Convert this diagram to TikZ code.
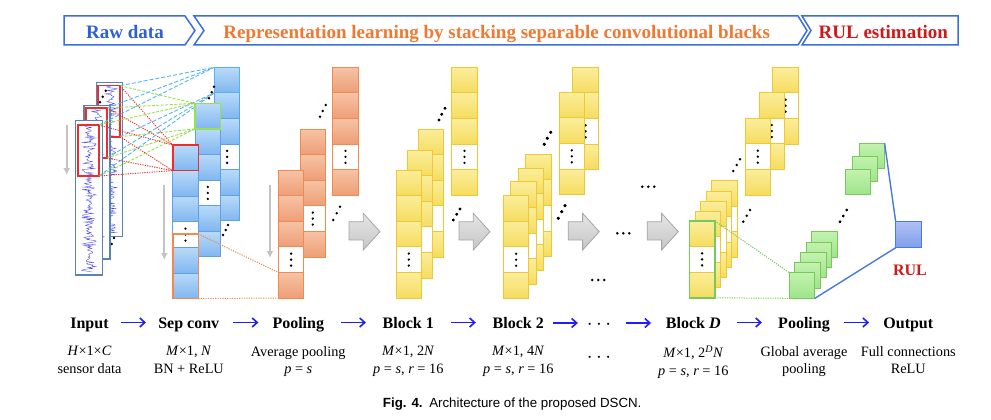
\documentclass[tikz,border=0pt]{standalone}
\usepackage{fontspec}
\setmainfont{Liberation Serif}
\newfontfamily\capfont{Liberation Sans}
\usetikzlibrary{arrows.meta,calc,positioning}
\definecolor{bannerblue}{RGB}{60,110,220}
\definecolor{rawblue}{RGB}{45,95,215}
\definecolor{reporange}{RGB}{240,120,50}
\definecolor{rulred}{RGB}{205,25,25}
\definecolor{sepline}{RGB}{95,160,230}
\definecolor{sepA}{RGB}{185,218,248}
\definecolor{sepB}{RGB}{128,182,240}
\definecolor{poolline}{RGB}{240,138,80}
\definecolor{poolA}{RGB}{246,195,165}
\definecolor{poolB}{RGB}{238,158,118}
\definecolor{yelline}{RGB}{240,200,55}
\definecolor{yelA}{RGB}{251,238,155}
\definecolor{yelB}{RGB}{245,220,95}
\definecolor{gapline}{RGB}{120,200,90}
\definecolor{gapA}{RGB}{195,242,175}
\definecolor{gapB}{RGB}{158,228,138}
\definecolor{outline}{RGB}{75,120,225}
\definecolor{outA}{RGB}{175,192,245}
\definecolor{outB}{RGB}{128,158,235}
\definecolor{hlred}{RGB}{235,45,45}
\definecolor{hlgreen}{RGB}{150,225,80}
\definecolor{cyanln}{RGB}{85,180,240}
\definecolor{inline}{RGB}{90,130,180}
\definecolor{wave}{RGB}{70,70,230}
\definecolor{arrgray}{RGB}{165,165,165}
\definecolor{downgray}{RGB}{195,195,195}
\definecolor{flowblue}{RGB}{30,30,250}

\newcommand{\cellsz}{25.6}
% one column of cells: x, y (top left), number of cells, dots cell, style prefix
\newcommand{\cellcol}[5]{%
  \foreach \k in {1,...,#3}
    \draw[#5cell] (#1,{#2+(\k-1)*\cellsz}) rectangle ++(\cellsz,\cellsz);
  \ifnum#4>0
    \draw[#5dot] (#1,{#2+(#4-1)*\cellsz}) rectangle ++(\cellsz,\cellsz);
    \foreach \d in {-6,0,6}
      \fill ({#1+\cellsz/2},{#2+(#4-0.5)*\cellsz+\d}) circle (1.3);
  \fi}

\tikzset{
  banner/.style={draw=bannerblue, line width=1.5pt, fill=white},
  bantext/.style={font=\fontsize{19}{22}\selectfont\bfseries, anchor=base, inner sep=0},
  sepcell/.style={draw=sepline, line width=0.9pt, top color=sepA, bottom color=sepB},
  sepdot/.style={draw=sepline, line width=0.9pt, fill=white},
  poolcell/.style={draw=poolline, line width=0.9pt, top color=poolA, bottom color=poolB},
  pooldot/.style={draw=poolline, line width=0.9pt, fill=white},
  yelcell/.style={draw=yelline, line width=0.9pt, top color=yelA, bottom color=yelB},
  yeldot/.style={draw=yelline, line width=0.9pt, fill=white},
  gapcell/.style={draw=gapline, line width=0.9pt, top color=gapA, bottom color=gapB},
  inrect/.style={draw=inline, line width=1.4pt, fill=white},
  wavy/.style={draw=wave, line width=0.35pt},
  hlbox/.style={draw=#1, line width=1.6pt, anchor=north west, inner sep=0, outer sep=0},
  cyandash/.style={draw=cyanln, line width=0.9pt, dash pattern=on 4pt off 2pt},
  greendash/.style={draw=hlgreen, line width=0.9pt, dash pattern=on 3pt off 1.5pt},
  reddot/.style={draw=hlred, line width=0.9pt, dash pattern=on 1.2pt off 1.2pt},
  orangedot/.style={draw=poolline, line width=1pt, dash pattern=on 1.2pt off 1.2pt},
  greendot/.style={draw=gapline, line width=1pt, dash pattern=on 1.2pt off 1.2pt},
  fcline/.style={draw=outline, line width=1.4pt},
  blockarrow/.style={draw=arrgray, line width=0.8pt, top color=gray!20, bottom color=gray!45},
  downarr/.style={draw=downgray, line width=1.8pt, -{Latex[length=7pt,width=7pt]}},
  lab/.style={font=\fontsize{16}{19}\selectfont\bfseries, inner sep=0, text height=11pt, text depth=0pt, anchor=base},
  sub/.style={font=\fontsize{14.3}{17.6}\selectfont, align=center, inner sep=0},
  flow/.style={draw=flowblue, line width=1.6pt, -{Straight Barb[length=5pt,width=9pt]}}
}

\begin{document}
\begin{tikzpicture}[x=1pt,y=-1pt]
  \useasboundingbox (0,0) rectangle (991,420);
  \pgfmathsetseed{7}

  % banner
  \draw[banner] (64,16) -- (185,16) -- (195,30.5) -- (185,45) -- (64,45) -- cycle;
  \draw[banner] (194,16) -- (798,16) -- (807,30.5) -- (798,45) -- (194,45) -- (204,30.5) -- cycle;
  \draw[banner] (802,16) -- (958,16) -- (958,45) -- (802,45) -- (811,30.5) -- cycle;
  \node[bantext, text=rawblue] (raw) at (125,38.3) {Raw data};
  \node[bantext, text=reporange] (rep) at (496.7,38.3) {Representation learning by stacking separable convolutional blacks};
  \node[bantext, text=rulred] (est) at (883.3,38.3) {RUL estimation};

  % input channels
  \draw[inrect] (96.7,82.7) rectangle (122.7,236.7);
  \draw[wavy] plot[domain=86:234, samples=170] ({109.7+(2.5+5*abs(sin(\x*9)))*rand}, \x);
  \node[hlbox=hlred, minimum width=22pt, minimum height=51pt] (rb1) at (98,85.7) {};
  \foreach \px/\py in {105.7/90.7, 102.7/96.7, 100/102.3, 114/238, 111.7/244}
    \fill (\px,\py) circle (1.4);
  \draw[inrect] (84,105.7) rectangle (110,259);
  \draw[wavy] plot[domain=109:256, samples=170] ({97+(2.5+5*abs(sin(\x*11)))*rand}, \x);
  \node[hlbox=hlred, minimum width=21pt, minimum height=50pt] (rb2) at (86,108) {};
  \draw[inrect] (75.7,120.7) rectangle (102.3,275);
  \draw[wavy] plot[domain=124:272, samples=170] ({89+(2.5+5*abs(sin(\x*7)))*rand}, \x);
  \node[hlbox=hlred, minimum width=21pt, minimum height=51pt] (rb3) at (78,125) {};
  \draw[downarr] (66.7,125) -- (66.7,175);

  % input to separable convolution
  \coordinate (cyT) at (214.3,67.3);
  \coordinate (cyB) at (214.3,92.9);
  \coordinate (grT) at (195,103.3);
  \coordinate (grB) at (195,128.9);
  \coordinate (rdT) at (172.7,145);
  \coordinate (rdB) at (172.7,170.6);
  \foreach \s in {rb1,rb2,rb3}
  {
    \draw[cyandash] (\s.north east) -- (cyT);
    \draw[cyandash] (\s.south east) -- (cyB);
    \draw[greendash] (\s.north east) -- (grT);
    \draw[greendash] (\s.south east) -- (grB);
    \draw[reddot] (\s.north east) -- (rdT);
    \draw[reddot] (\s.south east) -- (rdB);
    }

  % sep conv
  \cellcol{214.3}{67.3}{6}{4}{sep}
  \draw[draw=cyanln, line width=1pt] (cyT) rectangle ++(\cellsz,\cellsz);
  \cellcol{195}{103.3}{6}{4}{sep}
  \node[hlbox=hlgreen, minimum size=25.6pt] (grbox) at (grT) {};
  \cellcol{172.7}{145}{6}{4}{sep}
  \node[hlbox=hlred, minimum size=25.6pt] (rdbox) at (rdT) {};
  \node[hlbox=poolline, minimum width=25.6pt, minimum height=64.3pt] (ob) at (172.7,234) {};
  \foreach \px/\py in {214/86.7, 211.7/92.3, 209/98.3, 228/225, 225.7/230, 223/235}
    \fill (\px,\py) circle (1.4);
  \draw[downarr] (164.3,185) -- (164.3,260);

  % pooling
  \coordinate (plT) at (278.3,272.4);
  \coordinate (plB) at (278.3,298.2);
  \draw[orangedot] (ob.north east) -- (plT);
  \draw[orangedot] (ob.south east) -- (plB);
  \cellcol{332.7}{67.3}{5}{4}{pool}
  \cellcol{300}{129}{5}{4}{pool}
  \cellcol{278.3}{170}{5}{4}{pool}
  \foreach \px/\py in {325.7/105, 322.7/111, 320/116.7, 340/206.7, 336.7/213.3, 333.3/220}
    \fill (\px,\py) circle (1.4);
  \draw[downarr] (270,185) -- (270,258);

  % block 1
  \cellcol{451.7}{67.3}{5}{4}{yel}
  \foreach \cx/\cy in {418.3/129, 407.3/150, 396/170}
    \cellcol{\cx}{\cy}{5}{4}{yel}
  \foreach \px/\py in {445/108.3, 441.7/114.3, 439/120, 460/209, 456.7/214.3, 453.3/220}
    \fill (\px,\py) circle (1.4);

  % block 2
  \foreach \cx/\cy in {572.7/67.3, 559/92.3, 525.5/154.3, 518.1/168.1, 510.7/181.9, 503.3/195.7}
    \cellcol{\cx}{\cy}{4}{3}{yel}
  \foreach \px/\py in {550.7/132.3, 547.3/138.3, 544.3/144.3, 565/205.7, 561.7/211.7, 558.3/218.3}
    \fill (\px,\py) circle (1.4);

  % ... between blocks
  \foreach \hx/\hy in {598.3/280, 623.3/233.3, 648.3/186.7}
    \foreach \d in {-6,0,6}
      \fill ({\hx+\d},\hy) circle (1.4);

  % block D
  \foreach \cx/\cy in {772.7/67.3, 759/92.7, 745/118.3, 711.7/180.7, 706/191, 700.7/201, 695/211, 689.3/221}
    \cellcol{\cx}{\cy}{3}{2}{yel}
  \node[hlbox=gapline, minimum width=25.6pt, minimum height=76.8pt] (gcol) at (689.3,221) {};
  \foreach \px/\py in {740/159.3, 736.7/165, 733.3/171, 750/210, 746.7/215.7, 743.3/221.7}
    \fill (\px,\py) circle (1.4);

  % big arrows
  \foreach \ax in {349,459,568.3,647.3}
    \draw[blockarrow] (\ax,221.7) -- ++(14.3,0) -- ++(0,-8.4) -- ({\ax+31},231.7) -- ({\ax+14.3},250) -- ++(0,-10) -- (\ax,240) -- cycle;

  % global average pooling
  \foreach \cx/\cy in {811.7/231.7, 806.1/242, 800.5/252.2, 794.9/262.5}
    \cellcol{\cx}{\cy}{1}{0}{gap}
  \node[hlbox=gapline, line width=0.9pt, minimum size=25.6pt, top color=gapA, bottom color=gapB] (gap) at (789.3,272.7) {};
  \node[hlbox=gapline, line width=0.9pt, minimum size=25.6pt, top color=gapA, bottom color=gapB] (fcb) at (859,143.3) {};
  \foreach \cx/\cy in {852/156.3, 845/169.3}
    \cellcol{\cx}{\cy}{1}{0}{gap}
  \foreach \px/\py in {846.7/210, 843.3/216, 840/221.7}
    \fill (\px,\py) circle (1.4);
  \draw[greendot] (gcol.north east) -- (gap.north west);
  \draw[greendot] (gcol.south east) -- (gap.south west);

  % output
  \node[hlbox=outline, line width=1pt, minimum size=26pt, top color=outA, bottom color=outB] (out) at (895.7,221.7) {};
  \draw[fcline] (fcb.north east) -- (out.north west);
  \draw[fcline] (gap.south east) -- (out.south west);
  \node[font=\fontsize{16}{19}\selectfont\bfseries, text=rulred, anchor=base, inner sep=0] (rul) at (910,275) {RUL};

  % labels
  \node[lab] (lin) at (89.5,328) {Input};
  \node[lab] (lsep) at (188.8,328) {Sep conv};
  \node[lab] (lpool) at (298.3,328) {Pooling};
  \node[lab] (lb1) at (408.3,328) {Block 1};
  \node[lab] (lb2) at (518.3,328) {Block 2};
  \node[lab, font=\fontsize{20}{22}\selectfont] (ldots) at (599,329) {$\cdots$};
  \node[lab] (lbD) at (693.3,328) {Block \textit{D}};
  \node[lab] (lgap) at (804,328) {Pooling};
  \node[lab] (lout) at (908.3,328) {Output};
  \foreach \a/\b in {lin/lsep, lsep/lpool, lpool/lb1, lb1/lb2, lb2/ldots, ldots/lbD, lbD/lgap, lgap/lout}
    \draw[flow] ($(\a.east)!.5!(\b.west)+(-12.5,0)$) -- ($(\a.east)!.5!(\b.west)+(12.5,0)$);

  \node[sub, below=17.7pt of lin] {\textit{H}×1×\textit{C}\\sensor data};
  \node[sub, below=17.7pt of lsep] {\textit{M}×1, \textit{N}\\BN + ReLU};
  \node[sub, below=17.7pt of lpool] {Average pooling\\\textit{p} = \textit{s}};
  \node[sub, below=17.7pt of lb1] {\textit{M}×1, 2\textit{N}\\\textit{p} = \textit{s}, \textit{r} = 16};
  \node[sub, below=17.7pt of lb2] {\textit{M}×1, 4\textit{N}\\\textit{p} = \textit{s}, \textit{r} = 16};
  \node[sub, font=\fontsize{20}{22}\selectfont] at (599,358.3) {$\cdots$};
  \node[sub, below=17.7pt of lbD] {\textit{M}×1, 2\textsuperscript{\textit{D}}\textit{N}\\\textit{p} = \textit{s}, \textit{r} = 16};
  \node[sub, below=17.7pt of lgap] {Global average\\pooling};
  \node[sub, below=17.7pt of lout] {Full connections\\ReLU};

  \node[font=\capfont\fontsize{13.3}{16}\selectfont, anchor=base, inner sep=0] (cap) at (512.2,407.5) {\textbf{Fig. 4.}\enspace Architecture of the proposed DSCN.};
\end{tikzpicture}
\end{document}
